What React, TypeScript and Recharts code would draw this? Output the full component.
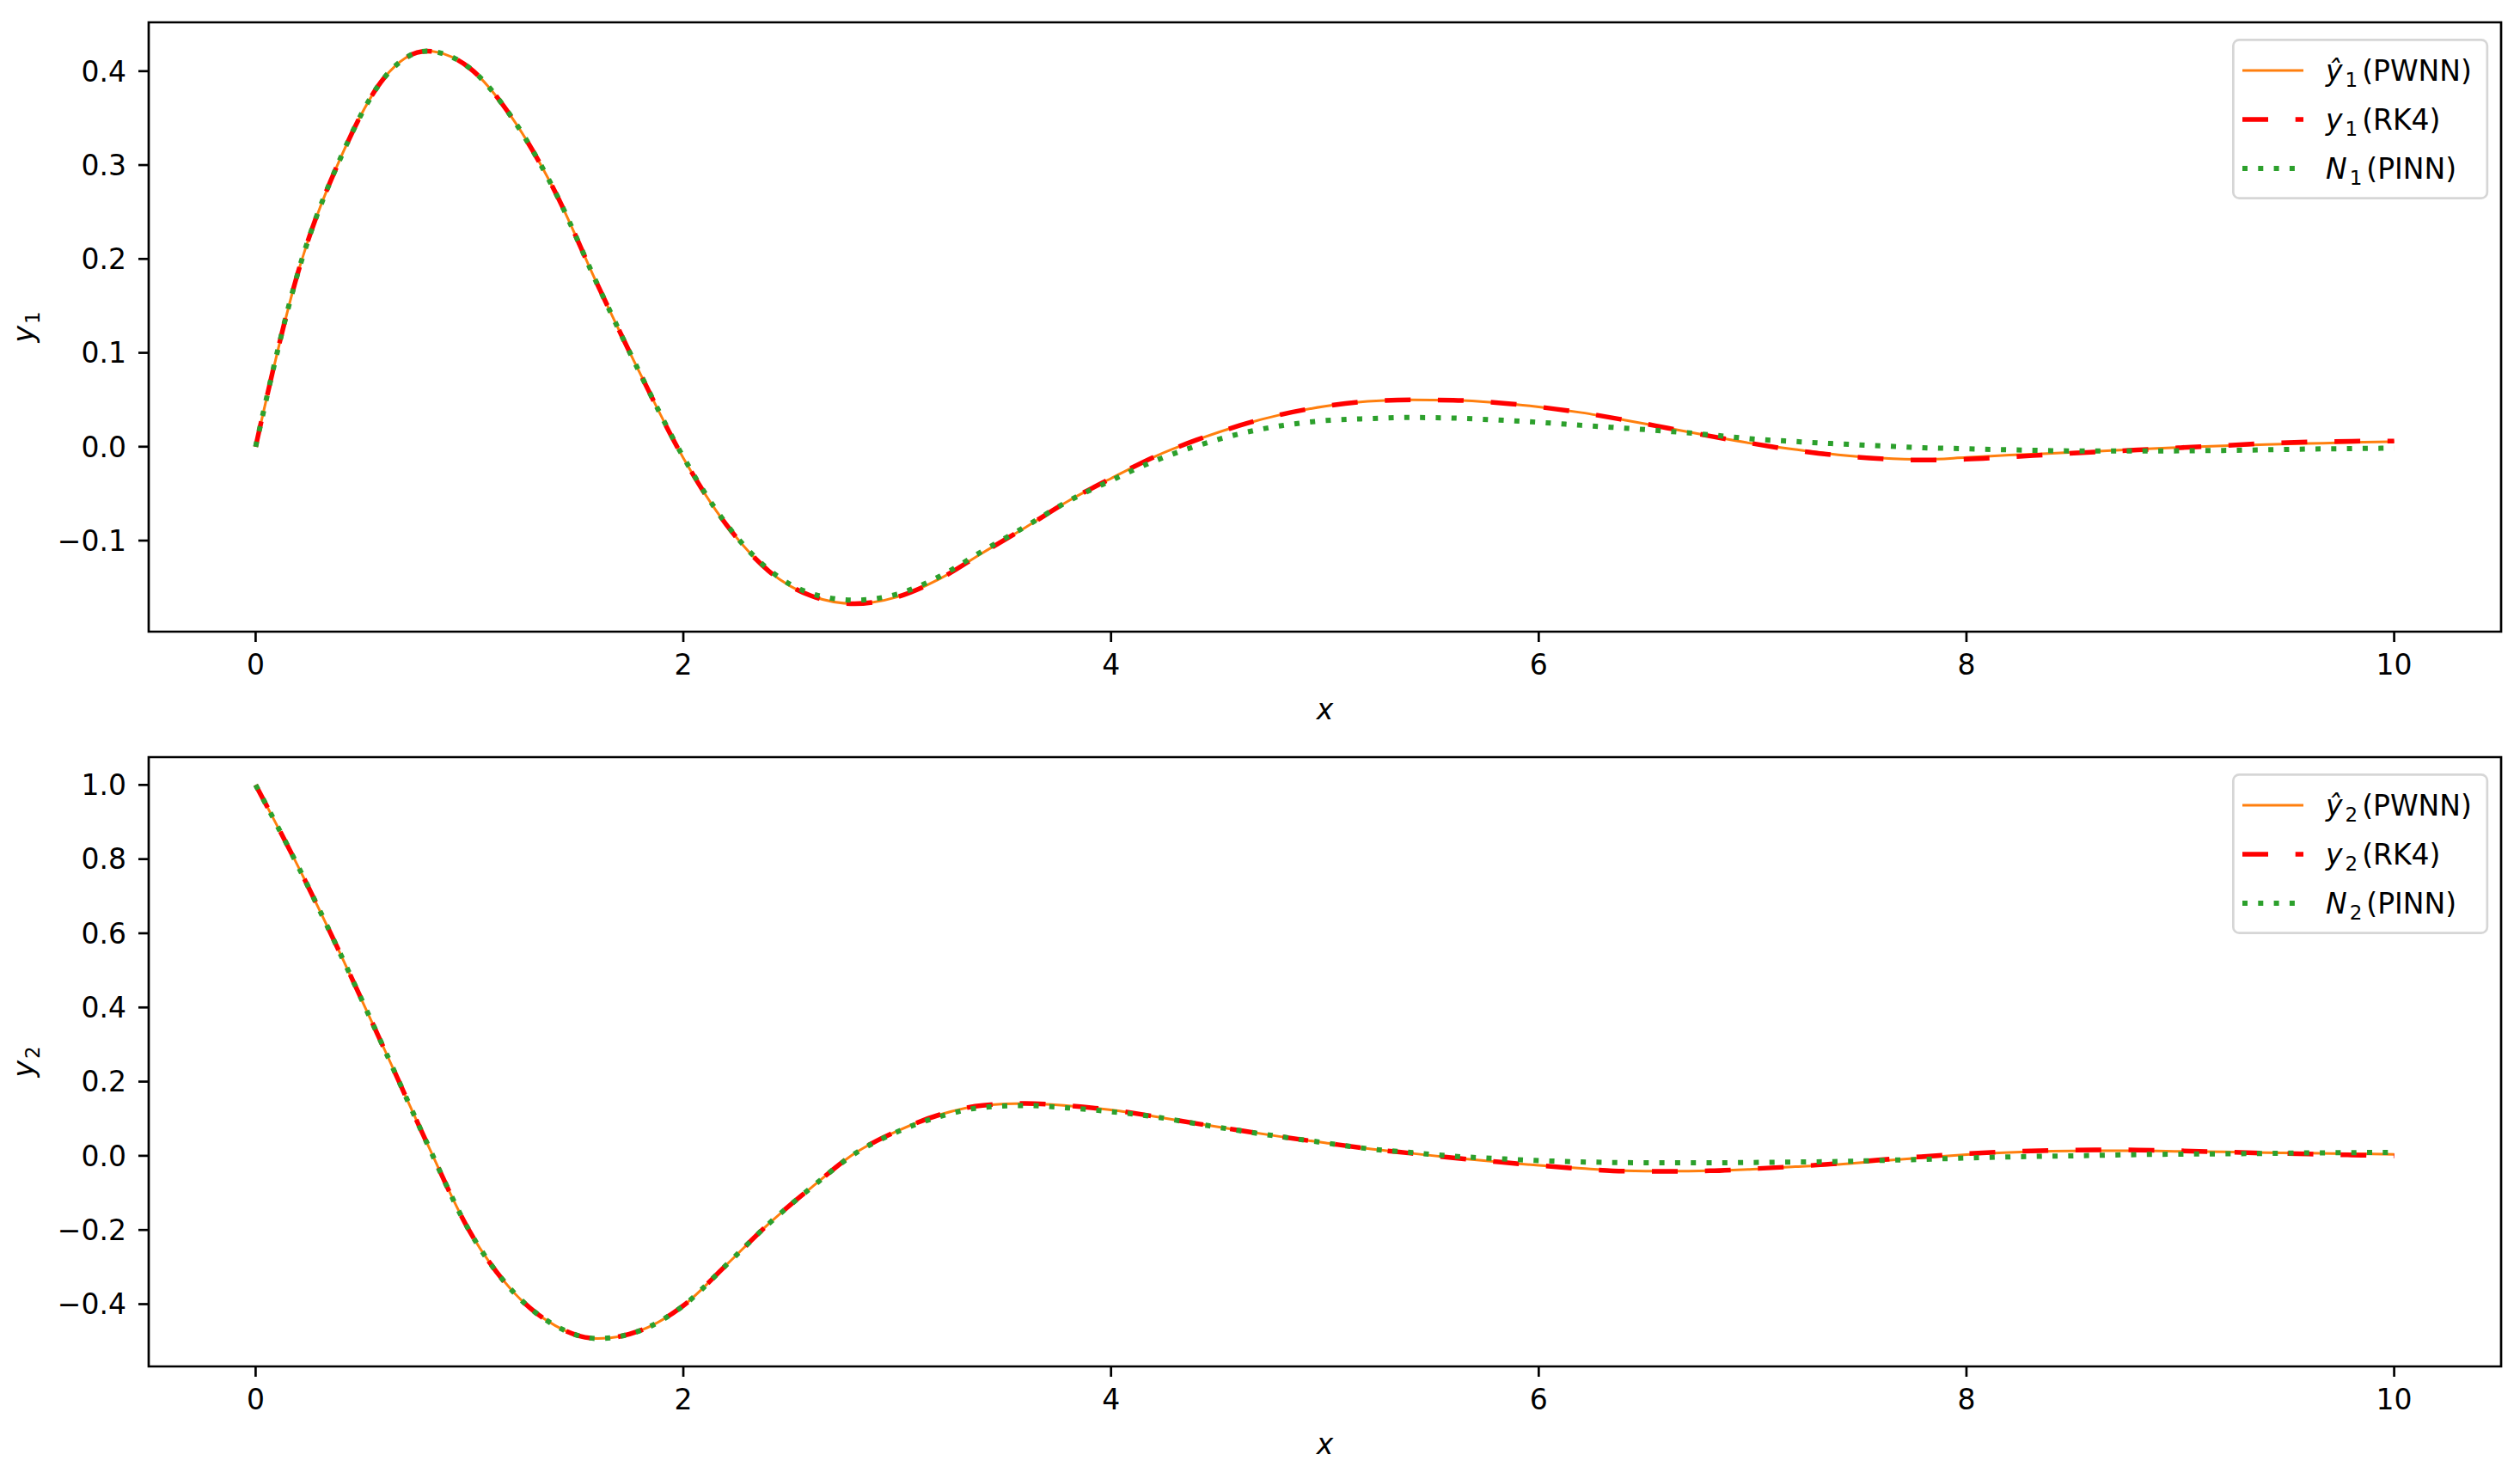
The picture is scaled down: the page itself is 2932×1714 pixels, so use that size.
import React from 'react';
import { LineChart, Line, XAxis, YAxis, ReferenceArea, Legend } from 'recharts';

// ---------- data ----------
const xValues = [
  0, 0.2, 0.4, 0.6, 0.8, 1.0, 1.2, 1.4, 1.6, 1.8,
  2.0, 2.2, 2.4, 2.6, 2.8, 3.0, 3.2, 3.4, 3.6, 3.8,
  4.0, 4.2, 4.4, 4.6, 4.8, 5.0, 5.2, 5.4, 5.6, 5.8,
  6.0, 6.2, 6.4, 6.6, 6.8, 7.0, 7.2, 7.4, 7.6, 7.8,
  8.0, 8.2, 8.4, 8.6, 8.8, 9.0, 9.2, 9.4, 9.6, 9.8, 10.0,
];

const y1PWNN = [
  0, 0.187, 0.309, 0.3925, 0.4213, 0.4035, 0.35, 0.2717, 0.172, 0.077,
  -0.012, -0.0827, -0.1325, -0.159, -0.1672, -0.16, -0.1406, -0.113, -0.086, -0.0578,
  -0.0338, -0.011, 0.0072, 0.0225, 0.0345, 0.043, 0.0483, 0.0499, 0.0495, 0.047,
  0.0424, 0.0363, 0.0285, 0.02, 0.0114, 0.0034, -0.003, -0.0086, -0.0122, -0.0137,
  -0.0115, -0.009, -0.007, -0.005, -0.0027, -0.0008, 0.001, 0.0023, 0.0034, 0.0046, 0.0055,
];
const y1RK4 = [
  0, 0.187, 0.309, 0.3925, 0.4213, 0.4035, 0.35, 0.2717, 0.172, 0.077,
  -0.012, -0.0827, -0.1325, -0.159, -0.1672, -0.16, -0.1406, -0.113, -0.086, -0.0578,
  -0.0338, -0.011, 0.0072, 0.0225, 0.0345, 0.043, 0.0483, 0.0499, 0.0495, 0.047,
  0.0424, 0.0363, 0.0285, 0.02, 0.0114, 0.0034, -0.0038, -0.0093, -0.0128, -0.0142,
  -0.0133, -0.011, -0.0082, -0.0056, -0.0035, -0.001, 0.0012, 0.0035, 0.005, 0.0058, 0.006,
];
const y1PINN = [
  0, 0.187, 0.309, 0.3925, 0.4213, 0.4035, 0.35, 0.2717, 0.172, 0.077,
  -0.011, -0.082, -0.131, -0.1565, -0.1635, -0.157, -0.138, -0.111, -0.085, -0.058,
  -0.036, -0.0155, 0.0008, 0.0137, 0.0225, 0.0278, 0.0299, 0.0311, 0.0305, 0.0285,
  0.026, 0.0228, 0.0198, 0.0165, 0.0127, 0.0083, 0.0055, 0.003, 0.0009, -0.0011,
  -0.0022, -0.0033, -0.0042, -0.0046, -0.0046, -0.0044, -0.004, -0.0033, -0.0025, -0.002, -0.0015,
];

const y2PWNN = [
  1.0, 0.7788, 0.54, 0.29, 0.036, -0.203, -0.364, -0.4575, -0.4928, -0.471,
  -0.404, -0.295, -0.183, -0.085, 0.006, 0.0665, 0.111, 0.136, 0.1413, 0.135,
  0.1236, 0.1064, 0.087, 0.0685, 0.051, 0.035, 0.0193, 0.007, -0.0055, -0.016,
  -0.026, -0.034, -0.04, -0.0412, -0.04, -0.036, -0.0295, -0.0235, -0.014, -0.005,
  0.003, 0.009, 0.0125, 0.0135, 0.0135, 0.012, 0.0105, 0.0085, 0.007, 0.0055, 0.004,
];
const y2RK4 = [
  1.0, 0.7788, 0.54, 0.29, 0.036, -0.203, -0.364, -0.4575, -0.4928, -0.471,
  -0.404, -0.295, -0.183, -0.085, 0.006, 0.0665, 0.111, 0.136, 0.1413, 0.135,
  0.1236, 0.1064, 0.087, 0.0685, 0.051, 0.035, 0.0193, 0.007, -0.0055, -0.016,
  -0.026, -0.035, -0.0415, -0.0418, -0.0405, -0.035, -0.0288, -0.0205, -0.0105, -0.002,
  0.0055, 0.011, 0.0145, 0.016, 0.0155, 0.0135, 0.0102, 0.0072, 0.0048, 0.0022, 0.0,
];
const y2PINN = [
  1.0, 0.7788, 0.54, 0.29, 0.036, -0.203, -0.364, -0.4575, -0.4928, -0.471,
  -0.404, -0.295, -0.183, -0.085, 0.005, 0.0645, 0.106, 0.1305, 0.1355, 0.129,
  0.119, 0.1055, 0.0865, 0.068, 0.051, 0.035, 0.0193, 0.009, -0.001, -0.0075,
  -0.0128, -0.0165, -0.0183, -0.019, -0.019, -0.018, -0.0168, -0.0155, -0.0125, -0.0095,
  -0.006, -0.003, -0.001, 0.001, 0.0032, 0.0045, 0.0053, 0.0065, 0.0077, 0.0085, 0.0093,
];

const xTicks = [0, 2, 4, 6, 8, 10];
const y1Ticks = [-0.1, 0, 0.1, 0.2, 0.3, 0.4];
const y2Ticks = [-0.4, -0.2, 0, 0.2, 0.4, 0.6, 0.8, 1.0];
const xDomain: [number, number] = [-0.5, 10.5];
const y1Domain: [number, number] = [-0.197, 0.452];
const y2Domain: [number, number] = [-0.568, 1.075];

const seriesNames = ['(PWNN)', '(RK4)', '(PINN)'];

// ---------- styling ----------
const FONT = '"DejaVu Sans", sans-serif';
const FS = 33;
const W = 2932;
const H = 857;
const ORANGE = '#ff7f0e';
const RED = '#ff0000';
const GREEN = '#2ca02c';
const RED_DASH = '30 31.7';
const GREEN_DASH = '6 12.3';
const SPINE = 2.7;

const fmtY = (v: number) => v.toFixed(1).replace('-', '\u2212');
const fmtX = (v: number) => String(v);

function buildRows(a: number[], b: number[], c: number[]) {
  return xValues.map((x, i) => ({ x, pwnn: a[i], rk4: b[i], pinn: c[i] }));
}

function LegendBox({ idx }: { idx: number }) {
  const items = [
    { letter: '\u0177', name: seriesNames[0], color: ORANGE, width: 3, dash: undefined as string | undefined },
    { letter: 'y', name: seriesNames[1], color: RED, width: 5.5, dash: RED_DASH },
    { letter: 'N', name: seriesNames[2], color: GREEN, width: 6, dash: GREEN_DASH },
  ];
  return (
    <svg width={300} height={189} style={{ display: 'block' }}>
      <rect x={1.35} y={1.35} width={295.5} height={184.3} rx={7} ry={7}
        fill="rgba(255,255,255,0.8)" stroke="#d6d6d6" strokeWidth={2.7} />
      {items.map((it, i) => {
        const cy = 37 + 57 * i;
        return (
          <g key={i}>
            <line x1={12} x2={83} y1={cy} y2={cy} stroke={it.color} strokeWidth={it.width}
              strokeDasharray={it.dash} />
            <text x={109} y={cy + 12} fontFamily={FONT} fontSize={FS} fill="#000">
              <tspan fontStyle="italic">{it.letter}</tspan>
              <tspan fontSize={23} dx={3} dy={7}>{String(idx)}</tspan>
              <tspan dx={5} dy={-7}>{it.name}</tspan>
            </text>
          </g>
        );
      })}
    </svg>
  );
}

type PanelProps = {
  rows: { x: number; pwnn: number; rk4: number; pinn: number }[];
  yDomain: [number, number];
  yTicks: number[];
  idx: number;
  marginTop: number;
  xAxisHeight: number;
  legendTop: number;
};

function Panel({ rows, yDomain, yTicks, idx, marginTop, xAxisHeight, legendTop }: PanelProps) {
  const yLabel = (props: any) => {
    const vb = props.viewBox || { x: 0, y: 0, width: 0, height: 0 };
    const cx = 39;
    const cy = vb.y + vb.height / 2;
    return (
      <text x={cx} y={cy} transform={`rotate(-90 ${cx} ${cy})`} textAnchor="middle"
        fontFamily={FONT} fontSize={FS} fill="#000">
        <tspan fontStyle="italic">y</tspan>
        <tspan fontSize={23} dx={2} dy={7}>{String(idx)}</tspan>
      </text>
    );
  };
  const xLabel = (props: any) => {
    const vb = props.viewBox || { x: 0, y: 0, width: 0, height: 0 };
    return (
      <text x={vb.x + vb.width / 2} y={vb.y + 102} textAnchor="middle"
        fontFamily={FONT} fontSize={FS} fontStyle="italic" fill="#000">x</text>
    );
  };
  return (
    <LineChart width={W} height={H} data={rows}
      margin={{ top: marginTop, right: 22, left: 0, bottom: 0 }}>
      <XAxis dataKey="x" type="number" domain={xDomain} ticks={xTicks} allowDataOverflow
        interval={0} tickFormatter={fmtX} height={xAxisHeight} axisLine={false}
        tickSize={12} tickMargin={15}
        tickLine={{ stroke: '#000', strokeWidth: SPINE }}
        tick={{ fill: '#000', fontSize: FS, fontFamily: FONT }}
        label={xLabel} />
      <YAxis type="number" domain={yDomain} ticks={yTicks} allowDataOverflow interval={0}
        tickFormatter={fmtY} width={173} axisLine={false} tickSize={12} tickMargin={14}
        tickLine={{ stroke: '#000', strokeWidth: SPINE }}
        tick={{ fill: '#000', fontSize: FS, fontFamily: FONT }}
        label={yLabel} />
      <Line type="monotone" dataKey="pwnn" stroke={ORANGE} strokeWidth={3} dot={false}
        activeDot={false} isAnimationActive={false} />
      <Line type="monotone" dataKey="rk4" stroke={RED} strokeWidth={5.5} strokeDasharray={RED_DASH}
        dot={false} activeDot={false} isAnimationActive={false} />
      <Line type="monotone" dataKey="pinn" stroke={GREEN} strokeWidth={6} strokeDasharray={GREEN_DASH}
        dot={false} activeDot={false} isAnimationActive={false} />
      <ReferenceArea x1={xDomain[0]} x2={xDomain[1]} y1={yDomain[0]} y2={yDomain[1]}
        fill="none" fillOpacity={0} stroke="#000" strokeWidth={SPINE} ifOverflow="visible" />
      <Legend layout="vertical" align="center" verticalAlign="middle"
        wrapperStyle={{ left: 2597, top: legendTop, width: 300, height: 189 }}
        content={() => <LegendBox idx={idx} />} />
    </LineChart>
  );
}

export default function App() {
  const rows1 = buildRows(y1PWNN, y1RK4, y1PINN);
  const rows2 = buildRows(y2PWNN, y2RK4, y2PINN);
  return (
    <div style={{ position: 'absolute', left: 0, top: 0, width: W, height: 1714, background: '#fff', overflow: 'hidden' }}>
      <div style={{ position: 'absolute', left: 0, top: 0 }}>
        <Panel rows={rows1} yDomain={y1Domain} yTicks={y1Ticks} idx={1}
          marginTop={26} xAxisHeight={122} legendTop={45} />
      </div>
      <div style={{ position: 'absolute', left: 0, top: 857 }}>
        <Panel rows={rows2} yDomain={y2Domain} yTicks={y2Ticks} idx={2}
          marginTop={24} xAxisHeight={124} legendTop={43} />
      </div>
    </div>
  );
}
